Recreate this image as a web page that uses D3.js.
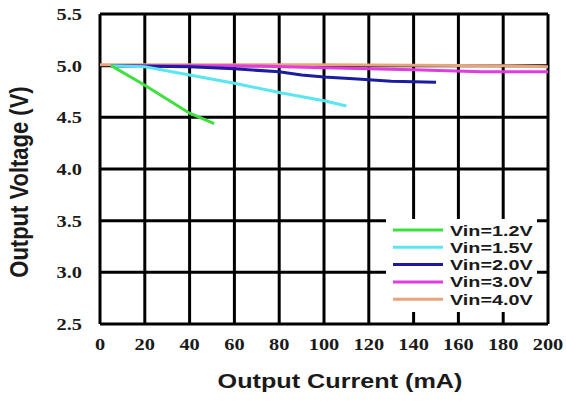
<!DOCTYPE html>
<html><head><meta charset="utf-8">
<script src="https://cdn.jsdelivr.net/npm/d3@7/dist/d3.min.js"></script>
<style>body{margin:0;background:#fff;}svg{display:block;}</style>
</head><body>
<svg id="c" width="566" height="401"></svg>
<script>
const xTicks = [0,20,40,60,80,100,120,140,160,180,200];
const yTicks = [2.5,3.0,3.5,4.0,4.5,5.0,5.5];
const seriesNames = ["Vin=1.2V","Vin=1.5V","Vin=2.0V","Vin=3.0V","Vin=4.0V"];
const seriesColors = ["#3ee03e","#5ae6f0","#1c1ca0","#e03ce0","#e8a47c"];
const vin12 = [[5,5.0],[20,4.81],[40,4.54],[51,4.44]];
const vin15 = [[5,5.0],[20,4.99],[40,4.91],[60,4.83],[80,4.74],[100,4.66],[110,4.61]];
const vin20 = [[5,5.0],[40,4.99],[60,4.97],[80,4.94],[90,4.91],[100,4.89],[115,4.87],[130,4.85],[150,4.84]];
const vin30 = [[5,5.0],[60,5.0],[100,4.98],[140,4.96],[170,4.94],[200,4.94]];
const vin40 = [[0,5.01],[100,5.01],[180,5.0],[200,4.99]];
const seriesData = [vin12, vin15, vin20, vin30, vin40];

const svg = d3.select("#c");
const x = d3.scaleLinear().domain([0,200]).range([100,548]);
const y = d3.scaleLinear().domain([2.5,5.5]).range([324,14]);

function stext(g, tx, ty, str, opts){
  return g.append("text").attr("transform", `translate(${tx},${ty}) ${opts.rot?`rotate(${opts.rot})`:""} scale(${opts.sx||1},${opts.sy||1})`)
    .attr("text-anchor", opts.anchor||"middle")
    .attr("font-family", opts.family)
    .attr("font-size", opts.size)
    .attr("font-weight", "bold")
    .attr("fill", "#1a1a1a")
    .text(str);
}

// grid
const grid = svg.append("g").attr("stroke","#000").attr("stroke-width",3);
grid.selectAll("line.v").data(xTicks).join("line").attr("class","v")
  .attr("x1",d=>x(d)).attr("x2",d=>x(d)).attr("y1",y(5.5)).attr("y2",y(2.5));
grid.selectAll("line.h").data(yTicks).join("line").attr("class","h")
  .attr("x1",x(0)).attr("x2",x(200)).attr("y1",d=>y(d)).attr("y2",d=>y(d));

// lines
const line = d3.line().x(d=>x(d[0])).y(d=>y(d[1]));
const order = [4,3,2,1,0];
svg.append("g").selectAll("path").data(order).join("path")
  .attr("d", i=>line(seriesData[i])).attr("fill","none")
  .attr("stroke", i=>seriesColors[i]).attr("stroke-width",3);

// tick labels
const tl = svg.append("g");
yTicks.forEach(v=>stext(tl, 82, y(v)+6, v.toFixed(1), {anchor:"end", family:"Liberation Serif", size:17, sx:1.2}));
xTicks.forEach(v=>stext(tl, x(v), 350, String(v), {family:"Liberation Serif", size:17, sx:1.2}));

// axis titles
stext(svg, 340, 388, "Output Current (mA)", {family:"Liberation Sans", size:21, sx:1.2});
stext(svg, 28, 182, "Output Voltage (V)", {family:"Liberation Sans", size:22, rot:-90, sx:1, sy:1.15});

// legend
const lg = svg.append("g");
lg.append("rect").attr("x",386).attr("y",219).attr("width",151).attr("height",93).attr("fill","#fff");
seriesNames.forEach((n,i)=>{
  const yy = 230 + i*17.3;
  lg.append("line").attr("x1",393).attr("x2",443).attr("y1",yy).attr("y2",yy)
    .attr("stroke",seriesColors[i]).attr("stroke-width",3);
  stext(lg, 450, yy+5.5, n, {anchor:"start", family:"Liberation Sans", size:15, sx:1.32});
});
</script>
</body></html>
